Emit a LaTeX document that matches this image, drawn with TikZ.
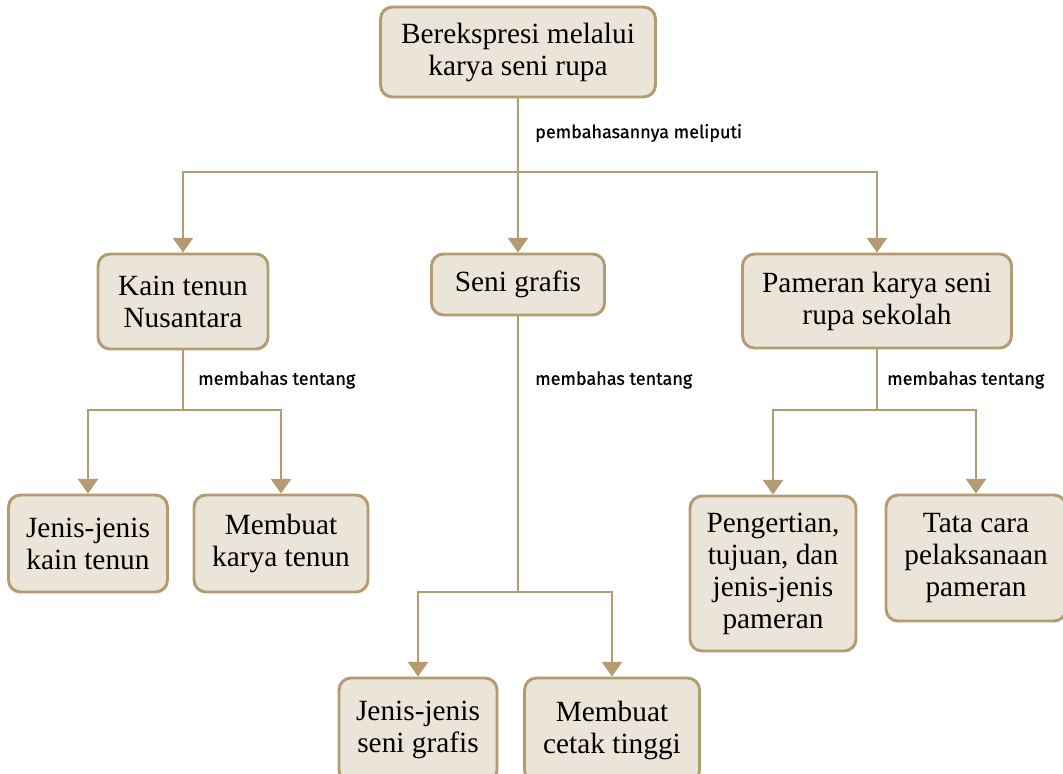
\documentclass[tikz,border=0pt]{standalone}
\usepackage{fontspec}
\setmainfont{Liberation Serif}
\newfontfamily\notefont[FakeBold=0.7]{Fira Sans}
\usetikzlibrary{arrows.meta}
\definecolor{boxfill}{HTML}{EAE4D9}
\definecolor{boxline}{HTML}{B59B72}
\tikzset{
  box/.style={draw=boxline, fill=boxfill, line width=2.2pt, rounded corners=9pt,
    align=center, inner sep=0pt, font=\fontsize{22}{24}\selectfont},
  sz/.style 2 args={minimum width=#1*0.75pt, minimum height=#2*0.75pt},
  link/.style={draw=boxline, line width=2pt},
  note/.style={anchor=west, inner sep=0pt, font=\notefont\fontsize{13.5}{15}\selectfont}
}
\begin{document}
\begin{tikzpicture}[x=0.75pt, y=-0.75pt, >={Triangle[width=15pt,length=11pt]}]
  \useasboundingbox (0,0) rectangle (1063,774); \clip (0,0) rectangle (1063,774);
  % boxes
  \node[box, sz={275}{90}] (top) at (518,52) {Berekspresi melalui\\karya seni rupa};
  \node[box, sz={170}{95}] (kain) at (183,301.5) {Kain tenun\\Nusantara};
  \node[box, sz={173}{61}] (grafis) at (518,284.5) {Seni grafis};
  \node[box, sz={269}{94}] (pameran) at (877,301) {Pameran karya seni\\rupa sekolah};
  \node[box, sz={159}{97}] (jkain) at (88,543.5) {Jenis-jenis\\kain tenun};
  \node[box, sz={174}{97}] (mkain) at (281,543.5) {Membuat\\karya tenun};
  \node[box, sz={166}{155}] (pengertian) at (773,573.5) {Pengertian,\\tujuan, dan\\jenis-jenis\\pameran};
  \node[box, sz={180}{126}] (tata) at (976,558) {Tata cara\\pelaksanaan\\pameran};
  \node[box, sz={158}{104}] (jgrafis) at (418,730) {Jenis-jenis\\seni grafis};
  \node[box, sz={175}{104}] (mgrafis) at (612,730) {Membuat\\cetak tinggi};
  % connectors
  \coordinate (fork0) at (518,172); \coordinate (fork1) at (183,410);
  \coordinate (fork2) at (518,592); \coordinate (fork3) at (877,410);
  \draw[link] (top.south) -- (fork0);
  \draw[link] (kain.south) -- (fork1);
  \draw[link] (grafis.south) -- (fork2);
  \draw[link] (pameran.south) -- (fork3);
  \foreach \f/\n in {fork0/kain, fork0/grafis, fork0/pameran, fork1/jkain, fork1/mkain,
                     fork2/jgrafis, fork2/mgrafis, fork3/pengertian, fork3/tata}
    { \draw[link, ->, boxline] (\f) -| (\n.north); }
  % labels
  \node[note] (note0) at (535,133) {pembahasannya meliputi};
  \foreach \p/\n in {(198,380)/note1, (535,380)/note2, (887,380)/note3}
    { \node[note] (\n) at \p {membahas tentang}; }
\end{tikzpicture}
\end{document}
